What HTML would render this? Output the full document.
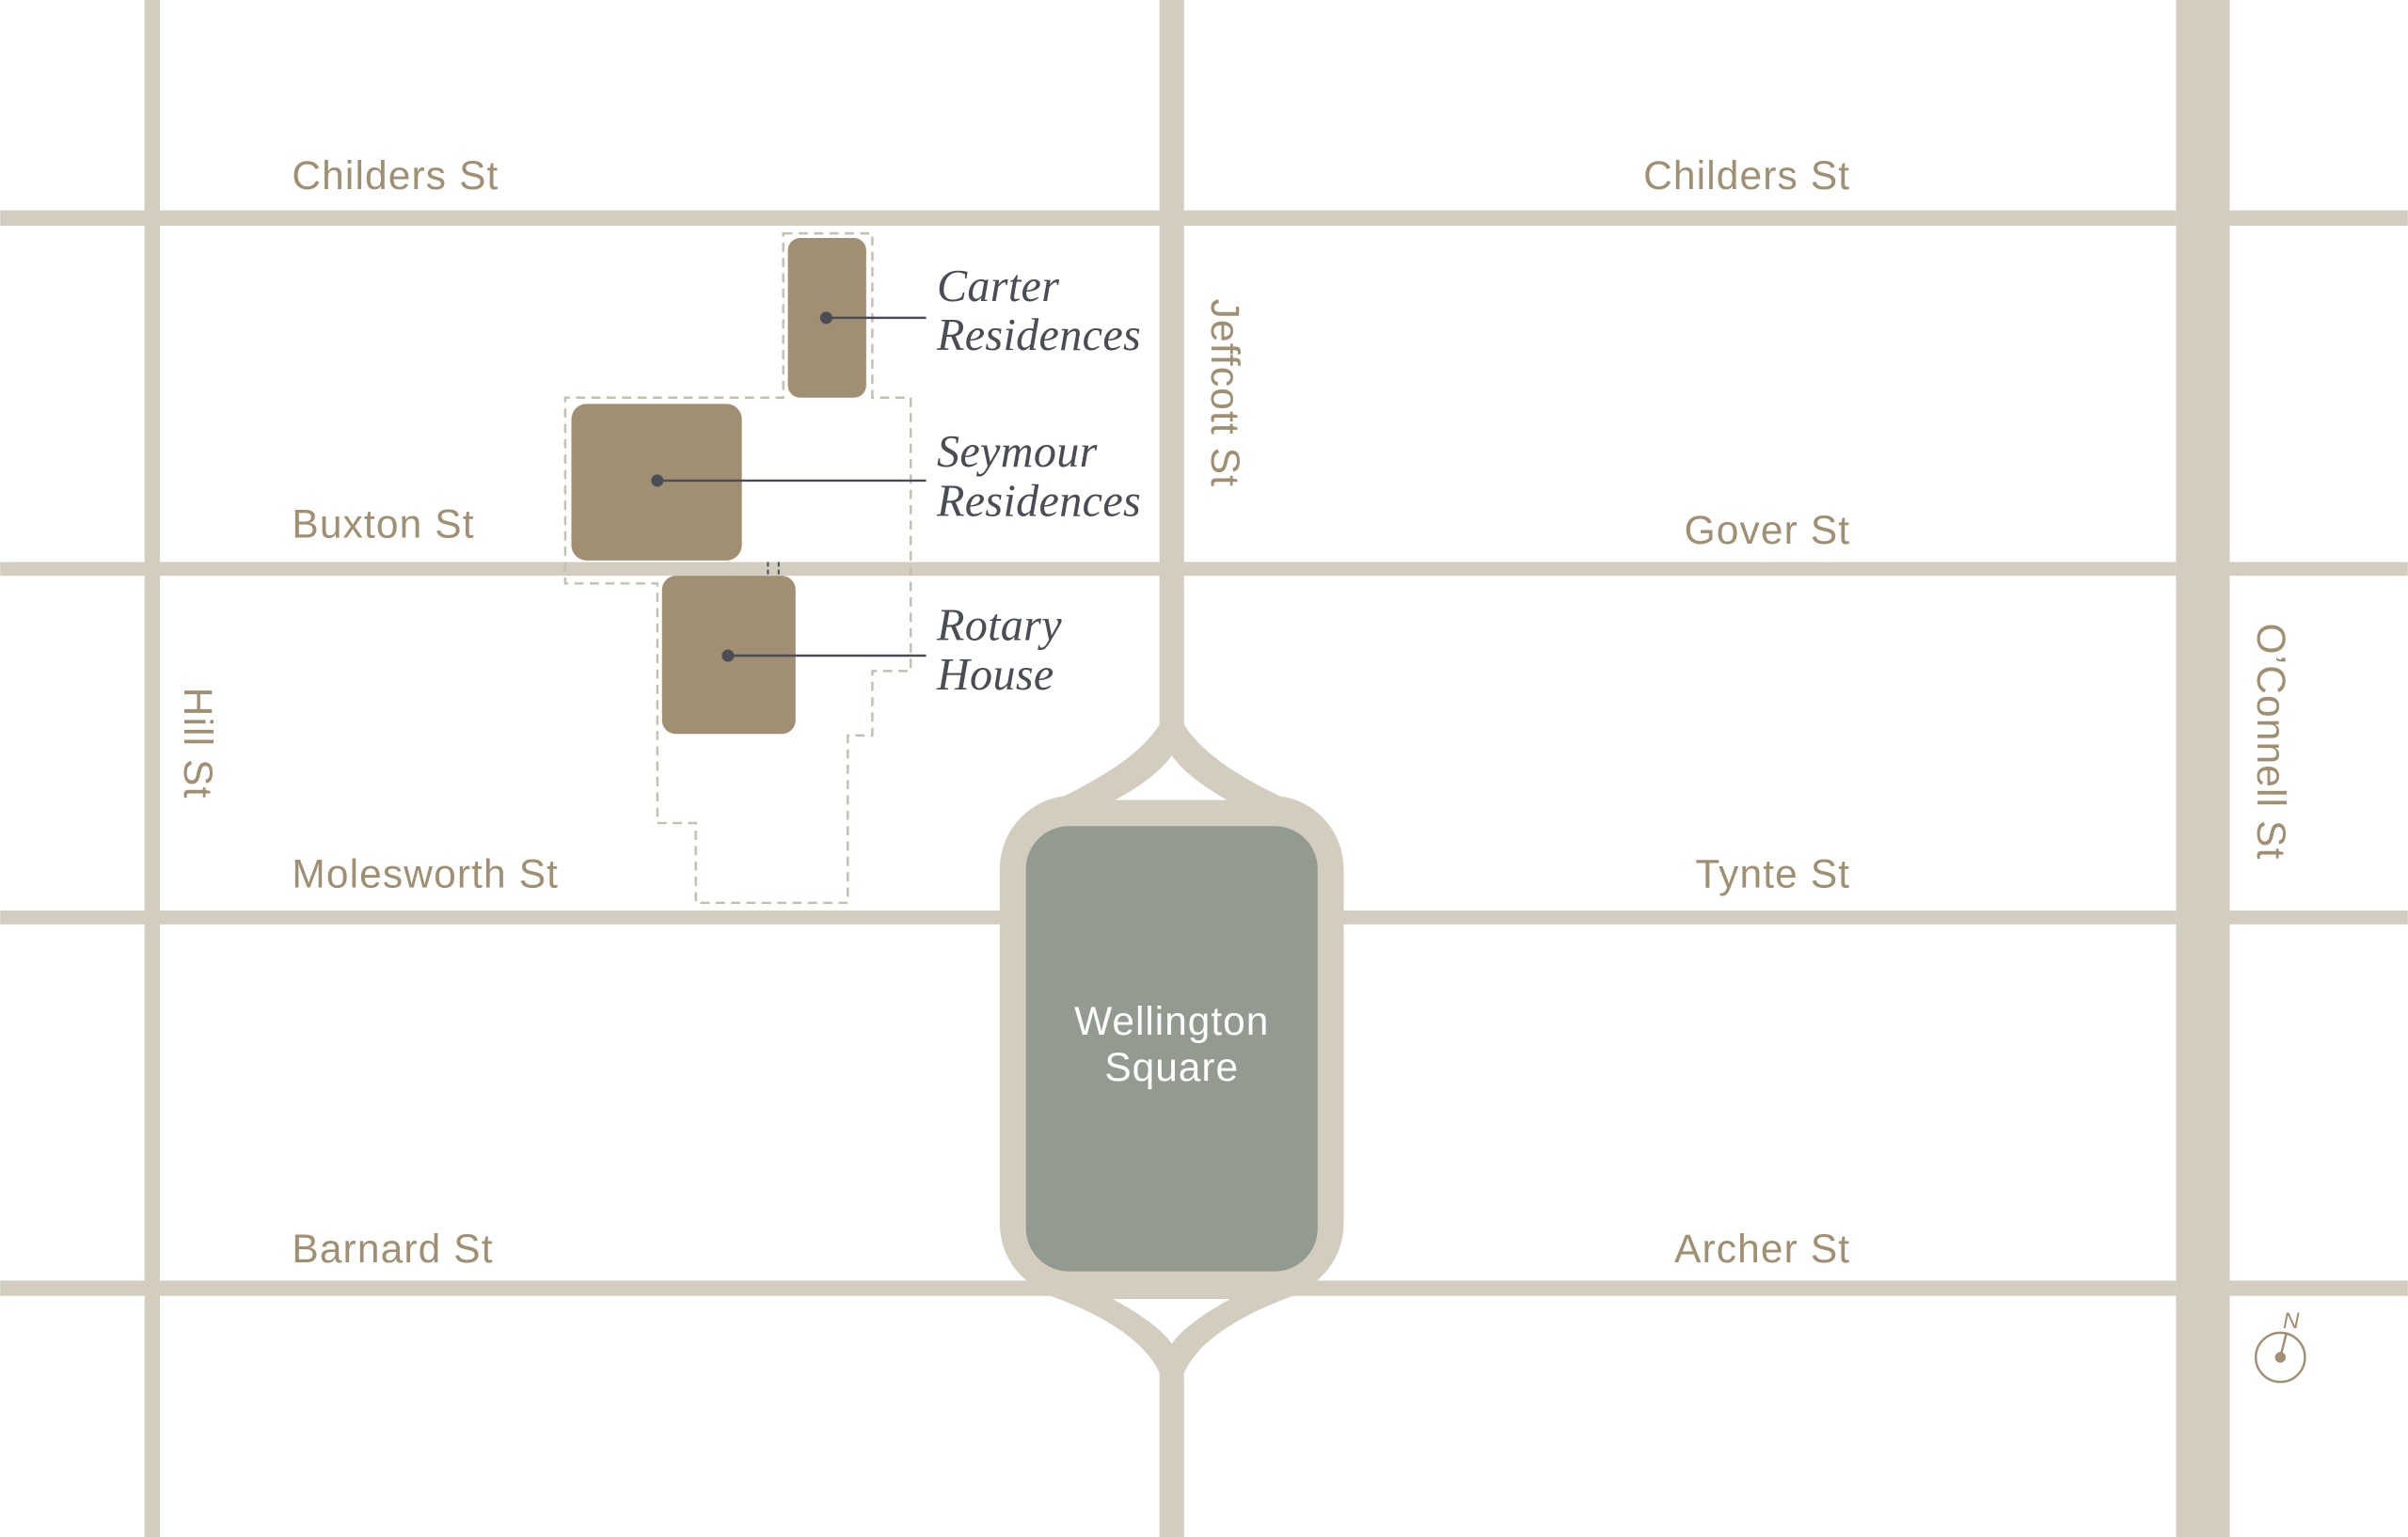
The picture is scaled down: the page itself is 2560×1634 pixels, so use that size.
<!DOCTYPE html>
<html><head><meta charset="utf-8"><style>
html,body{margin:0;padding:0;background:#fff;}
svg{display:block;}
.st{font-family:"Liberation Sans",sans-serif;font-size:26px;letter-spacing:0.7px;fill:#a08f72;}
.lb{font-family:"Liberation Serif",serif;font-style:italic;font-size:29.5px;letter-spacing:0.2px;fill:#4a4d55;}
</style></head><body>
<svg width="2560" height="1634" viewBox="0 0 1568 1001" xmlns="http://www.w3.org/2000/svg">
<rect width="1568" height="1001" fill="#fff"/>
<g fill="#d3cdbf">
<rect x="94" y="0" width="10" height="1001"/>
<rect x="755" y="0" width="16" height="474"/>
<rect x="755" y="890" width="16" height="111"/>
<rect x="1417" y="0" width="35" height="1001"/>
<rect x="0" y="137" width="1417" height="10"/>
<rect x="1452" y="137" width="116" height="10"/>
<rect x="0" y="366" width="1417" height="9"/>
<rect x="1452" y="366" width="116" height="9"/>
<rect x="0" y="593" width="1417" height="9"/>
<rect x="1452" y="593" width="116" height="9"/>
<rect x="0" y="834" width="1417" height="10"/>
<rect x="1452" y="834" width="116" height="10"/>
<path d="M755,472 C740,495 710,510 682,524 L845,524 C815,510 786,495 771,472 Z"/>
<path d="M684,844 C715,855 745,872 755,894 L771,894 C781,872 811,855 842,844 Z"/>
<rect x="651" y="518" width="224" height="327" rx="48"/>
</g>
<path d="M726,521 C743,512 756,502 763,492 C770,502 783,512 799,521 Z" fill="#fff"/>
<path d="M724.5,846 L801,846 C785,855 770,865 763,875 C756,865 741,855 724.5,846 Z" fill="#fff"/>
<rect x="668" y="538" width="190" height="290" rx="28" fill="#939a8f"/>
<text x="763" y="674" text-anchor="middle" font-family="Liberation Sans,sans-serif" font-size="26" letter-spacing="0.6" fill="#fff">Wellington</text>
<text x="763" y="704" text-anchor="middle" font-family="Liberation Sans,sans-serif" font-size="26" letter-spacing="0.6" fill="#fff">Square</text>

<path d="M510,152 L568,152 L568,259 L593,259 L593,437 L568,437 L568,479 L552,479 L552,588 L453,588 L453,536 L428,536 L428,380 L368,380 L368,259 L510,259 Z" fill="none" stroke="#c5bfb0" stroke-width="1.5" stroke-dasharray="6 4"/>
<line x1="500" y1="366" x2="500" y2="375" stroke="#4a4d55" stroke-width="1.2" stroke-dasharray="3 2"/>
<line x1="507" y1="366" x2="507" y2="375" stroke="#4a4d55" stroke-width="1.2" stroke-dasharray="3 2"/>

<g fill="#a08f72">
<rect x="513" y="155" width="51" height="104" rx="8"/>
<rect x="372" y="263" width="111" height="102" rx="10"/>
<rect x="431" y="375" width="87" height="103" rx="9"/>
</g>
<g stroke="#4a4d55" stroke-width="1.5">
<line x1="538" y1="207" x2="603" y2="207"/>
<line x1="428" y1="313" x2="603" y2="313"/>
<line x1="474" y1="427" x2="603" y2="427"/>
</g>
<g fill="#4a4d55">
<circle cx="538" cy="207" r="4"/><circle cx="428" cy="313" r="4"/><circle cx="474" cy="427" r="4"/>
</g>
<text class="lb" x="610" y="196">Carter</text>
<text class="lb" x="610" y="228">Residences</text>
<text class="lb" x="610" y="304">Seymour</text>
<text class="lb" x="610" y="336">Residences</text>
<text class="lb" x="610" y="417">Rotary</text>
<text class="lb" x="610" y="449">House</text>

<text class="st" x="190" y="123">Childers St</text>
<text class="st" x="1205" y="123" text-anchor="end">Childers St</text>
<text class="st" x="190" y="350">Buxton St</text>
<text class="st" x="1205" y="354" text-anchor="end">Gover St</text>
<text class="st" x="190" y="578">Molesworth St</text>
<text class="st" x="1205" y="578" text-anchor="end">Tynte St</text>
<text class="st" x="190" y="822">Barnard St</text>
<text class="st" x="1205" y="822" text-anchor="end">Archer St</text>
<text class="st" transform="translate(120,484) rotate(90)" text-anchor="middle">Hill St</text>
<text class="st" transform="translate(789,256) rotate(90)" text-anchor="middle">Jeffcott St</text>
<text class="st" transform="translate(1470,483) rotate(90)" text-anchor="middle">O’Connell St</text>

<circle cx="1485" cy="884" r="16" fill="none" stroke="#a08f72" stroke-width="1.5"/>
<circle cx="1485" cy="884" r="3.5" fill="#a08f72"/>
<line x1="1485" y1="884" x2="1489" y2="868" stroke="#a08f72" stroke-width="1.5"/>
<text x="1492" y="865" text-anchor="middle" font-family="Liberation Sans,sans-serif" font-style="italic" font-size="15" fill="#a08f72">N</text>
</svg>
</body></html>
